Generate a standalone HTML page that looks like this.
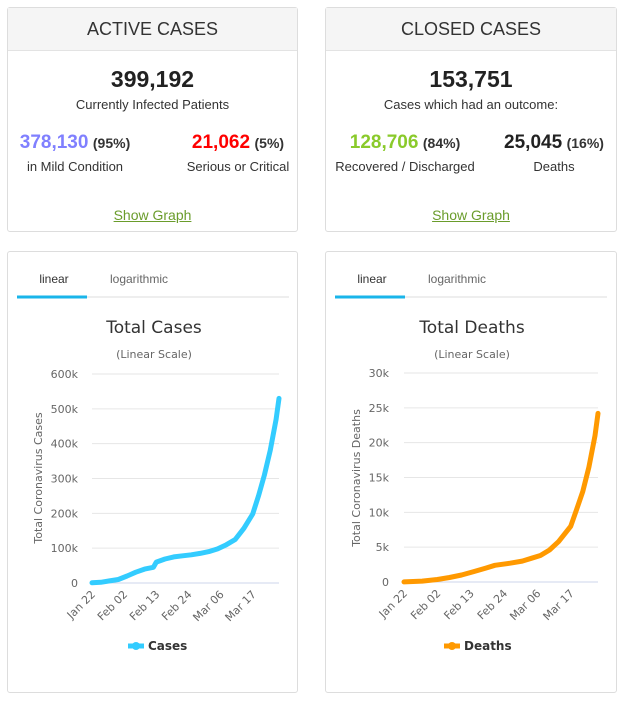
<!DOCTYPE html>
<html><head><meta charset="utf-8">
<style>
body{margin:0;width:624px;height:706px;background:#fff;position:relative;font-family:"Liberation Sans",Arial,sans-serif;overflow:hidden}
.card{position:absolute;background:#fff;border:1px solid #ddd;border-radius:3px;box-sizing:border-box}
.hdr{position:absolute;left:0;right:0;top:0;height:42px;background:#f5f5f5;border-bottom:1px solid #e3e3e3;text-align:center;line-height:42px;font-size:18px;color:#333}
.t{position:absolute;text-align:center;white-space:nowrap;color:#222}
.big{font-size:23px;font-weight:bold}
.sm{font-size:13px;color:#333}
.num{font-size:19px;font-weight:bold}
.pct{font-size:14px;font-weight:bold;color:#333}
.lnk{font-size:14px;color:#6a9c2b;text-decoration:underline}
svg text{font-family:"DejaVu Sans",Verdana,sans-serif}
</style></head><body>

<div class="card" style="left:7px;top:7px;width:291px;height:225px">
 <div class="hdr">ACTIVE CASES</div>
 <div class="t big" style="left:0;right:0;top:58px">399,192</div>
 <div class="t sm" style="left:0;right:0;top:89px">Currently Infected Patients</div>
 <div class="t" style="left:0;width:134px;top:124px"><span class="num" style="color:#8080ff">378,130</span> <span class="pct">(95%)</span></div>
 <div class="t sm" style="left:0;width:134px;top:151px">in Mild Condition</div>
 <div class="t" style="left:162px;width:136px;top:124px"><span class="num" style="color:#f00">21,062</span> <span class="pct">(5%)</span></div>
 <div class="t sm" style="left:162px;width:136px;top:151px">Serious or Critical</div>
 <div class="t lnk" style="left:0;right:0;top:199px">Show Graph</div>
</div>

<div class="card" style="left:325px;top:7px;width:292px;height:225px">
 <div class="hdr">CLOSED CASES</div>
 <div class="t big" style="left:0;right:0;top:58px">153,751</div>
 <div class="t sm" style="left:0;right:0;top:89px">Cases which had an outcome:</div>
 <div class="t" style="left:0;width:158px;top:124px"><span class="num" style="color:#8aca2b">128,706</span> <span class="pct">(84%)</span></div>
 <div class="t sm" style="left:0;width:158px;top:151px">Recovered / Discharged</div>
 <div class="t" style="left:168px;width:120px;top:124px"><span class="num" style="color:#222">25,045</span> <span class="pct">(16%)</span></div>
 <div class="t sm" style="left:168px;width:120px;top:151px">Deaths</div>
 <div class="t lnk" style="left:0;right:0;top:199px">Show Graph</div>
</div>

<div class="card" style="left:7px;top:251px;width:291px;height:442px"><svg id="c1" width="291" height="442"></svg></div>
<div class="card" style="left:325px;top:251px;width:292px;height:442px"><svg id="c2" width="292" height="442"></svg></div>

<script>
const caseDays=[0,3,6,9,12,15,18,21,22,25,28,31,34,37,40,43,46,49,52,55,57,59,61,63,64];
const caseValues=[600,2000,6000,10000,20000,31000,40000,45000,60000,69000,75000,78000,81000,85000,90000,98000,110000,125000,157000,198000,250000,310000,380000,470000,530000];
const deathDays=[0,6,11,15,19,23,27,30,35,39,42,45,48,51,55,57,59,61,63,64];
const deathValues=[17,130,360,640,1000,1500,2000,2400,2700,3000,3400,3800,4600,5800,8000,10500,13000,16500,21000,24200];
const xTickLabels=["Jan 22","Feb 02","Feb 13","Feb 24","Mar 06","Mar 17"];
const xTickDays=[0,11,22,33,44,55];
const caseTicks=[0,100000,200000,300000,400000,500000,600000];
const caseTickLabels=["0","100k","200k","300k","400k","500k","600k"];
const deathTicks=[0,5000,10000,15000,20000,25000,30000];
const deathTickLabels=["0","5k","10k","15k","20k","25k","30k"];
const NS="http://www.w3.org/2000/svg";
function mk(svg,tag,attrs,text){const e=document.createElementNS(NS,tag);for(const k in attrs)e.setAttribute(k,attrs[k]);if(text!==undefined)e.textContent=text;svg.appendChild(e);return e;}
function draw(id,o){
 const svg=document.getElementById(id);
 const xs=d=>o.x0+(o.x1-o.x0)*d/64;
 const ys=v=>o.y0-(o.y0-o.yT)*v/o.max;
 let e;
 e=mk(svg,'line',{x1:9,x2:281,y1:45,y2:45,stroke:'#eee','stroke-width':2});
 
 e=mk(svg,'line',{x1:9,x2:79,y1:45,y2:45,stroke:'#1ab5ea','stroke-width':3});
 
 e=mk(svg,'text',{x:46,y:31,'text-anchor':'middle','font-size':12,fill:'#333',style:'font-family:Liberation Sans,sans-serif'},'linear');
 
 e=mk(svg,'text',{x:131,y:31,'text-anchor':'middle','font-size':12,fill:'#666',style:'font-family:Liberation Sans,sans-serif'},'logarithmic');
 
 e=mk(svg,'text',{x:o.tx,y:81,'text-anchor':'middle','font-size':17,fill:'#333'},o.title);
 
 e=mk(svg,'text',{x:o.tx,y:106,'text-anchor':'middle','font-size':11,fill:'#666'},'(Linear Scale)');
 
 o.ticks.forEach((t,i)=>{
  const y=ys(t);
  e=mk(svg,'line',{x1:o.x0,x2:o.x1,y1:y,y2:y,stroke:i==0?'#ccd6eb':'#e6e6e6','stroke-width':1});
  
  e=mk(svg,'text',{x:o.lx,y:y+4,'text-anchor':'end','font-size':11,fill:'#666'},o.tickLabels[i]);
  
 });
 e=mk(svg,'text',{x:0,y:0,'text-anchor':'middle','font-size':11,fill:'#666',transform:`translate(${o.ax},226) rotate(-90)`},o.axis);
 
 xTickDays.forEach((d,i)=>{
  const x=xs(d);
  e=mk(svg,'text',{x:0,y:0,'text-anchor':'end','font-size':11,fill:'#666',transform:`translate(${x+4},${o.y0+12}) rotate(-45)`},xTickLabels[i]);
  
 });
 let p='';
 for(let i=0;i<o.days.length;i++){p+=(i?'L':'M')+xs(o.days[i]).toFixed(1)+','+ys(o.vals[i]).toFixed(1);}
 e=mk(svg,'path',{d:p,fill:'none',stroke:o.color,'stroke-width':5,'stroke-linejoin':'round','stroke-linecap':'round'});
 
 e=mk(svg,'line',{x1:o.lgx,x2:o.lgx+16,y1:394,y2:394,stroke:o.color,'stroke-width':5});
 
 e=mk(svg,'circle',{cx:o.lgx+8,cy:394,r:4,fill:o.color});
 
 e=mk(svg,'text',{x:o.lgx+20,y:398,'font-size':12,'font-weight':'bold',fill:'#333'},o.legend);
 
}
draw('c1',{x0:84,x1:271,y0:331,yT:122,max:600000,ticks:caseTicks,tickLabels:caseTickLabels,days:caseDays,vals:caseValues,color:'#33ccff',title:'Total Cases',axis:'Total Coronavirus Cases',tx:146,lx:70,ax:34,lgx:120,legend:'Cases'});
draw('c2',{x0:78,x1:272,y0:330,yT:121,max:30000,ticks:deathTicks,tickLabels:deathTickLabels,days:deathDays,vals:deathValues,color:'#ff9900',title:'Total Deaths',axis:'Total Coronavirus Deaths',tx:146,lx:63,ax:34,lgx:118,legend:'Deaths'});
</script>
</body></html>
